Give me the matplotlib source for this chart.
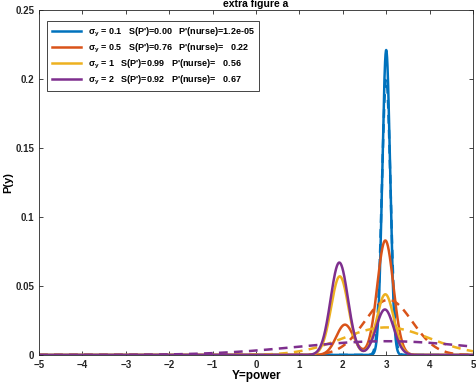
import numpy as np
import matplotlib
matplotlib.use('Agg')
import matplotlib.pyplot as plt

plt.rcParams['font.family'] = ['Liberation Sans', 'DejaVu Sans']
plt.rcParams['font.weight'] = 'bold'
plt.rcParams['mathtext.fontset'] = 'custom'
plt.rcParams['mathtext.bf'] = 'Liberation Sans:bold'
plt.rcParams['mathtext.rm'] = 'Liberation Sans:bold'

# sigma_y values and legend numbers
sigmas = [0.1, 0.5, 1, 2]
labels = [r"σ$_\mathbf{y}$ = 0.1   S(P')=0.00   P'(nurse)=1.2e-05",
          r"σ$_\mathbf{y}$ = 0.5   S(P')=0.76   P'(nurse)=   0.22",
          r"σ$_\mathbf{y}$ = 1   S(P')=0.99   P'(nurse)=   0.56",
          r"σ$_\mathbf{y}$ = 2   S(P')=0.92   P'(nurse)=   0.67"]
colors = ['#0072BD', '#D95319', '#EDB120', '#7E2F8E']

# solid curves: two bumps each (peak height, centre, width)
peak_a = [0.0, 0.022, 0.057, 0.067]
mean_a = [2.0, 2.05, 1.93, 1.92]
sd_a = [0.2, 0.2, 0.2, 0.2]
peak_b = [0.221, 0.083, 0.044, 0.033]
mean_b = [3.0, 2.98, 2.98, 2.97]
sd_b = [0.09, 0.186, 0.196, 0.2]

# dashed curves: one bump each
peak_d = [0.2, 0.04, 0.02, 0.01]
mean_d = [3.0, 3.05, 3.0, 3.0]
sd_d = [0.1, 0.55, 1.0, 2.0]

y = np.linspace(-5, 5, 2001)


def bump(x, h, m, s):
    return h * np.exp(-0.5 * ((x - m) / s) ** 2)


fig = plt.figure(figsize=(4.76, 3.88), dpi=100)
ax = fig.add_axes([39 / 476, 33 / 388, 434 / 476, 345 / 388])

handles = []
for i in range(len(sigmas)):
    p = bump(y, peak_a[i], mean_a[i], sd_a[i]) + bump(y, peak_b[i], mean_b[i], sd_b[i])
    h, = ax.plot(y, p, color=colors[i], lw=1.8)
    ax.plot(y, bump(y, peak_d[i], mean_d[i], sd_d[i]), color=colors[i],
            lw=1.8, dashes=(3.5, 2.5))
    handles.append(h)

ax.set_xlim(-5, 5)
ax.set_ylim(0, 0.25)
ax.set_xticks(range(-5, 6))
ax.set_yticks([0, 0.05, 0.1, 0.15, 0.2, 0.25])
ax.set_yticklabels(['0', '0.05', '0.1', '0.15', '0.2', '0.25'])
ax.tick_params(direction='in', top=True, right=True, labelsize=7,
               length=3, width=0.6, colors='#262626')
for sp in ax.spines.values():
    sp.set_linewidth(0.6)
    sp.set_color('#262626')

ax.set_xlabel('Y=power', fontsize=8.5, fontweight='bold', labelpad=0)
ax.set_ylabel('P(y)', fontsize=8, fontweight='bold', labelpad=1)
ax.set_title('extra figure a', fontsize=7.5, fontweight='bold', pad=2)

leg = ax.legend(handles, labels, loc='upper left', fontsize=6.5,
                handlelength=3.2, handletextpad=0.8, labelspacing=0.32,
                borderpad=0.5, borderaxespad=0,
                fancybox=False, framealpha=1, edgecolor='#262626',
                bbox_to_anchor=(0.019, 0.968))
leg.get_frame().set_linewidth(0.6)

plt.savefig('out.png', dpi=100)
